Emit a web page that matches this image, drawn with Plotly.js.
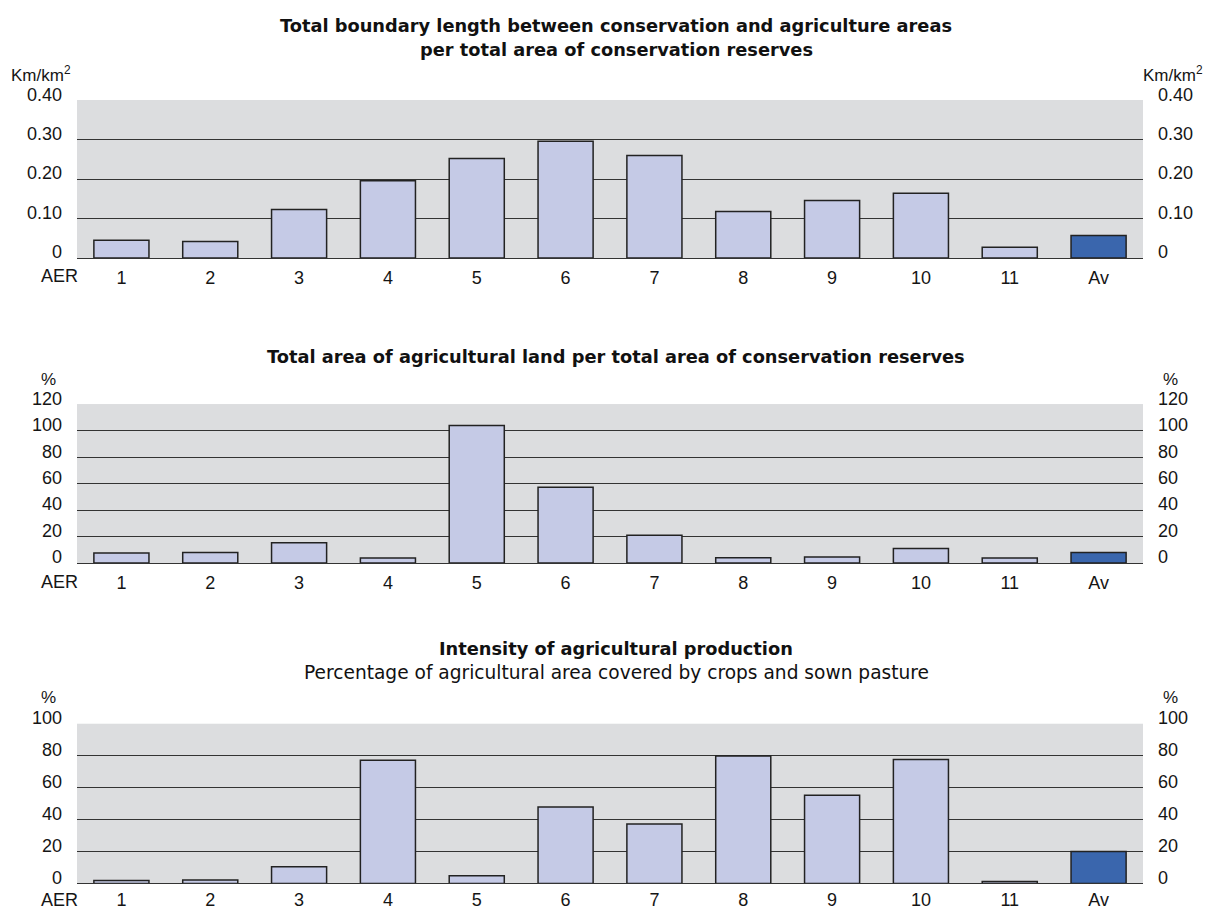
<!DOCTYPE html>
<html><head><meta charset="utf-8">
<script src="https://cdn.plot.ly/plotly-3.0.1.min.js"></script>
<style>html,body{margin:0;padding:0;background:#fff}#chart{width:1209px;height:910px}</style>
</head><body><div id="chart"></div>
<script>
const categories = ['1','2','3','4','5','6','7','8','9','10','11','Av'];
const boundaryLength = [0.045,0.042,0.123,0.196,0.252,0.296,0.260,0.118,0.146,0.164,0.027,0.057];
const agriAreaShare = [7.5,8,15.3,3.8,104,57.2,21,4,4.5,11,3.8,8];
const cropIntensity = [1.9,2.1,10.4,77.3,4.8,48,37.3,80,55.4,77.8,1.2,20];
const ticks1 = [0,0.1,0.2,0.3,0.4];
const tickText1 = ['0','0.10','0.20','0.30','0.40'];
const ticks2 = [0,20,40,60,80,100,120];
const ticks3 = [0,20,40,60,80,100];

const light = '#c5cae6', dark = '#3a66ad';
const colors = categories.map(c => c === 'Av' ? dark : light);
const FONT = 'Liberation Sans, Arial, Helvetica, sans-serif';
const TFONT = 'DejaVu Sans, Liberation Sans, Arial, sans-serif';

function bar(y, xa, ya){
  return {type:'bar', x:categories, y:y, xaxis:xa, yaxis:ya, width:0.62,
    marker:{color:colors, line:{color:'#222', width:1.5}}, hoverinfo:'x+y', showlegend:false};
}
function ghost(y, xa, ya){
  return {type:'scatter', mode:'none', x:categories, y:y, xaxis:xa, yaxis:ya, hoverinfo:'skip', showlegend:false};
}
const data = [
  bar(boundaryLength,'x','y'), bar(agriAreaShare,'x2','y2'), bar(cropIntensity,'x3','y3'),
  ghost(boundaryLength,'x','y4'), ghost(agriAreaShare,'x2','y5'), ghost(cropIntensity,'x3','y6')
];

const domains = [[0.7165,0.8901],[0.3813,0.5560],[0.0292,0.2047]];
const tickFont = {family:FONT, size:18, color:'#151515'};
function xax(anchor, standoff){
  return {anchor:anchor, type:'category', domain:[0,1], showgrid:false, zeroline:false,
    showline:true, linecolor:'#333', linewidth:1, ticks:'', tickfont:tickFont,
    ticklabelstandoff:standoff, fixedrange:true};
}
function yax(dom, range, tv, tt, anchor){
  return {domain:dom, range:range, anchor:anchor, tickvals:tv, ticktext:tt, showgrid:true,
    gridcolor:'#333', gridwidth:1, zeroline:false, showline:false, ticks:'',
    tickfont:tickFont, ticklabelstandoff:14, ticklabelshift:-6, fixedrange:true};
}
function yaxR(over, range, tv, tt, anchor){
  return {overlaying:over, side:'right', range:range, anchor:anchor, tickvals:tv, ticktext:tt,
    showgrid:false, zeroline:false, showline:false, ticks:'', tickfont:tickFont,
    ticklabelstandoff:14, ticklabelshift:-6, fixedrange:true};
}
const t2 = ticks2.map(String), t3 = ticks3.map(String);
const bold = {family:TFONT, size:17.8, color:'#111'};
const layout = {
  width:1209, height:910, margin:{l:77, r:66, t:0, b:0},
  paper_bgcolor:'#fff', plot_bgcolor:'#dcdddf',
  font:{family:FONT, color:'#151515'},
  xaxis:xax('y',3), xaxis2:xax('y2',3), xaxis3:xax('y3',0),
  yaxis:yax(domains[0],[0,0.4005],ticks1,tickText1,'x'),
  yaxis2:yax(domains[1],[0,120.2],ticks2,t2,'x2'),
  yaxis3:yax(domains[2],[0,100.2],ticks3,t3,'x3'),
  yaxis4:yaxR('y',[0,0.4005],ticks1,tickText1,'x'),
  yaxis5:yaxR('y2',[0,120.2],ticks2,t2,'x2'),
  yaxis6:yaxR('y3',[0,100.2],ticks3,t3,'x3'),
  annotations:[
    {text:'<b>Total boundary length between conservation and agriculture areas</b>', xref:'paper', yref:'paper', x:0.506, y:1-25/910, xanchor:'center', yanchor:'middle', showarrow:false, font:bold},
    {text:'<b>per total area of conservation reserves</b>', xref:'paper', yref:'paper', x:0.506, y:1-49/910, xanchor:'center', yanchor:'middle', showarrow:false, font:bold},
    {text:'<b>Total area of agricultural land per total area of conservation reserves</b>', xref:'paper', yref:'paper', x:0.506, y:1-357/910, xanchor:'center', yanchor:'middle', showarrow:false, font:bold},
    {text:'<b>Intensity of agricultural production</b>', xref:'paper', yref:'paper', x:0.506, y:1-648/910, xanchor:'center', yanchor:'middle', showarrow:false, font:bold},
    {text:'Percentage of agricultural area covered by crops and sown pasture', xref:'paper', yref:'paper', x:0.506, y:1-672/910, xanchor:'center', yanchor:'middle', showarrow:false, font:{family:TFONT, size:18.6, color:'#111'}},
    {text:'Km/km<sup>2</sup>', xref:'paper', yref:'paper', x:-68/1066, y:1-74/910, xanchor:'left', yanchor:'middle', showarrow:false, font:{size:17}},
    {text:'Km/km<sup>2</sup>', xref:'paper', yref:'paper', x:(1141-77)/1066, y:1-74/910, xanchor:'left', yanchor:'middle', showarrow:false, font:{size:17}},
    {text:'%', xref:'paper', yref:'paper', x:(48-77)/1066, y:1-379/910, xanchor:'center', yanchor:'middle', showarrow:false, font:{size:17}},
    {text:'%', xref:'paper', yref:'paper', x:(1170-77)/1066, y:1-379/910, xanchor:'center', yanchor:'middle', showarrow:false, font:{size:17}},
    {text:'%', xref:'paper', yref:'paper', x:(48-77)/1066, y:1-697/910, xanchor:'center', yanchor:'middle', showarrow:false, font:{size:17}},
    {text:'%', xref:'paper', yref:'paper', x:(1170-77)/1066, y:1-697/910, xanchor:'center', yanchor:'middle', showarrow:false, font:{size:17}},
    {text:'AER', xref:'paper', yref:'paper', x:(80-77)/1066, y:1-276/910, xanchor:'right', yanchor:'middle', showarrow:false, font:{size:18}},
    {text:'AER', xref:'paper', yref:'paper', x:(80-77)/1066, y:1-582/910, xanchor:'right', yanchor:'middle', showarrow:false, font:{size:18}},
    {text:'AER', xref:'paper', yref:'paper', x:(80-77)/1066, y:1-900/910, xanchor:'right', yanchor:'middle', showarrow:false, font:{size:18}}
  ]
};
Plotly.newPlot('chart', data, layout, {staticPlot:true, displayModeBar:false});
</script></body></html>
